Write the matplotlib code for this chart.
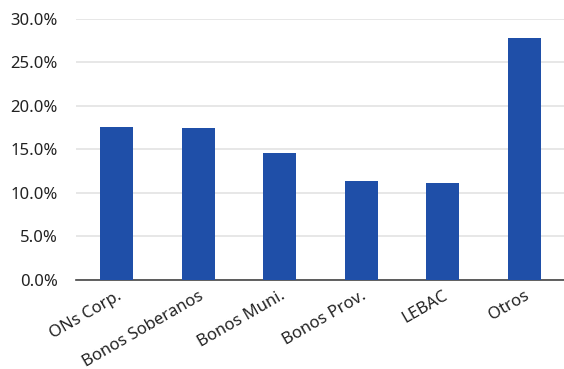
import matplotlib.pyplot as plt
import numpy as np
from matplotlib.ticker import PercentFormatter

plt.rcParams['font.family'] = ['Noto Sans', 'DejaVu Sans']

categories = ["ONs Corp.", "Bonos Soberanos", "Bonos Muni.", "Bonos Prov.", "LEBAC", "Otros"]
values = [17.6, 17.45, 14.57, 11.34, 11.11, 27.78]

fig = plt.figure(figsize=(5.64, 3.69), dpi=100)
ax = fig.add_axes([76 / 564, 1 - 279.5 / 369, 489 / 564, 260.5 / 369])

x = np.arange(len(categories))
ax.bar(x, values, width=0.405, color='#1f4fa8', zorder=3)

ax.set_xlim(-0.5, len(categories) - 0.5)
ax.set_ylim(0, 30)
ax.set_yticks(np.arange(0, 31, 5))
ax.yaxis.set_major_formatter(PercentFormatter(decimals=1))
ax.grid(axis='y', color='#e3e3e3', linewidth=1.2, zorder=0)

ax.set_xticks(x)
ax.set_xticklabels(categories, rotation=30, ha='right', rotation_mode='anchor')
ax.tick_params(axis='both', length=0, labelsize=12, colors='#222222')
ax.tick_params(axis='y', pad=13)
ax.tick_params(axis='x', pad=6)

for side in ['top', 'right', 'left']:
    ax.spines[side].set_visible(False)
ax.spines['bottom'].set_color('#444444')
ax.spines['bottom'].set_linewidth(1.2)

fig.savefig('out.png', dpi=100)
